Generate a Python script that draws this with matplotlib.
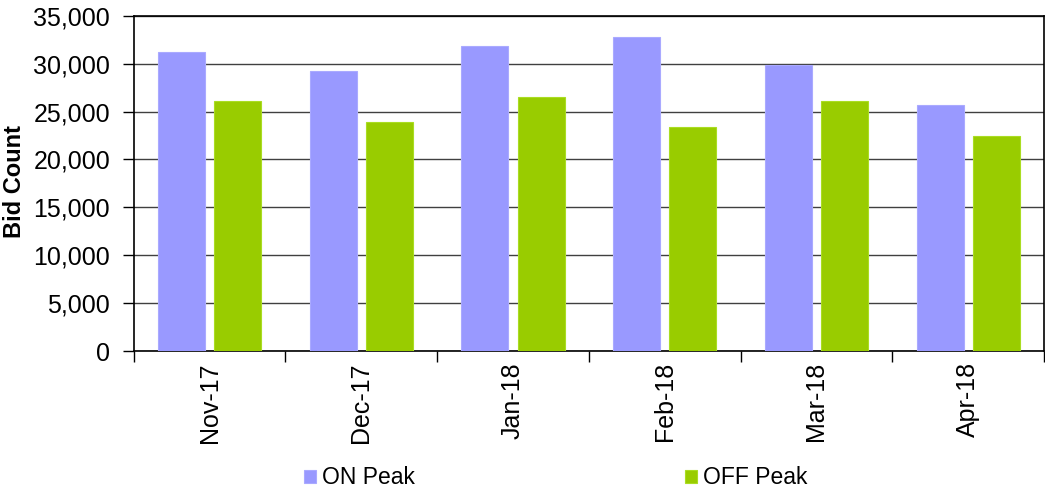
import matplotlib
matplotlib.use("Agg")
import matplotlib.pyplot as plt
import numpy as np

months = ["Nov-17", "Dec-17", "Jan-18", "Feb-18", "Mar-18", "Apr-18"]
on_peak = [31200, 29200, 31800, 32750, 29900, 25650]
off_peak = [26100, 23900, 26500, 23350, 26100, 22450]

plt.rcParams["font.family"] = ["Liberation Sans", "DejaVu Sans"]

fig = plt.figure(figsize=(10.45, 4.91), dpi=100)
ax = fig.add_axes([0.128, 0.285, 0.871, 0.683])

x = np.arange(len(months))
w = 0.31
ax.bar(x - 0.185, on_peak, w, color="#9999FF", edgecolor="#AAAAFF",
       linewidth=0.8, label="ON Peak", zorder=3)
ax.bar(x + 0.185, off_peak, w, color="#99CC00", edgecolor="#AADD22",
       linewidth=0.8, label="OFF Peak", zorder=3)

ax.set_ylim(0, 35000)
ax.set_xlim(-0.5, len(months) - 0.5)
ax.set_yticks(np.arange(0, 35001, 5000))
ax.yaxis.set_major_formatter(matplotlib.ticker.FuncFormatter(lambda v, p: f"{int(v):,}"))
ax.yaxis.grid(True, color="#404040", linewidth=1.0, zorder=0)
ax.tick_params(axis="y", direction="out", length=8, width=1, labelsize=18, pad=9)

# category boundaries as major ticks, labels on minor ticks at centres
ax.set_xticks(np.arange(-0.5, len(months), 1.0))
ax.set_xticklabels([])
ax.set_xticks(x, minor=True)
ax.set_xticklabels(months, minor=True, rotation=90, fontsize=18)
ax.tick_params(axis="x", which="major", direction="out", length=8, width=1)
ax.tick_params(axis="x", which="minor", length=0, pad=8)

fig.text(15 / 1045, 1 - 181 / 491, "Bid Count", rotation=90, ha="center",
         va="center", fontsize=17, fontweight="bold")

for s in ax.spines.values():
    s.set_color("black")
    s.set_linewidth(1.2)

fig.legend(loc="center", bbox_to_anchor=(556 / 1045, 1 - 478 / 491), ncol=2,
           frameon=False, fontsize=16.5, handlelength=0.52, handleheight=0.52,
           handletextpad=0.26, columnspacing=11.8)

fig.savefig("out.png", dpi=100)
